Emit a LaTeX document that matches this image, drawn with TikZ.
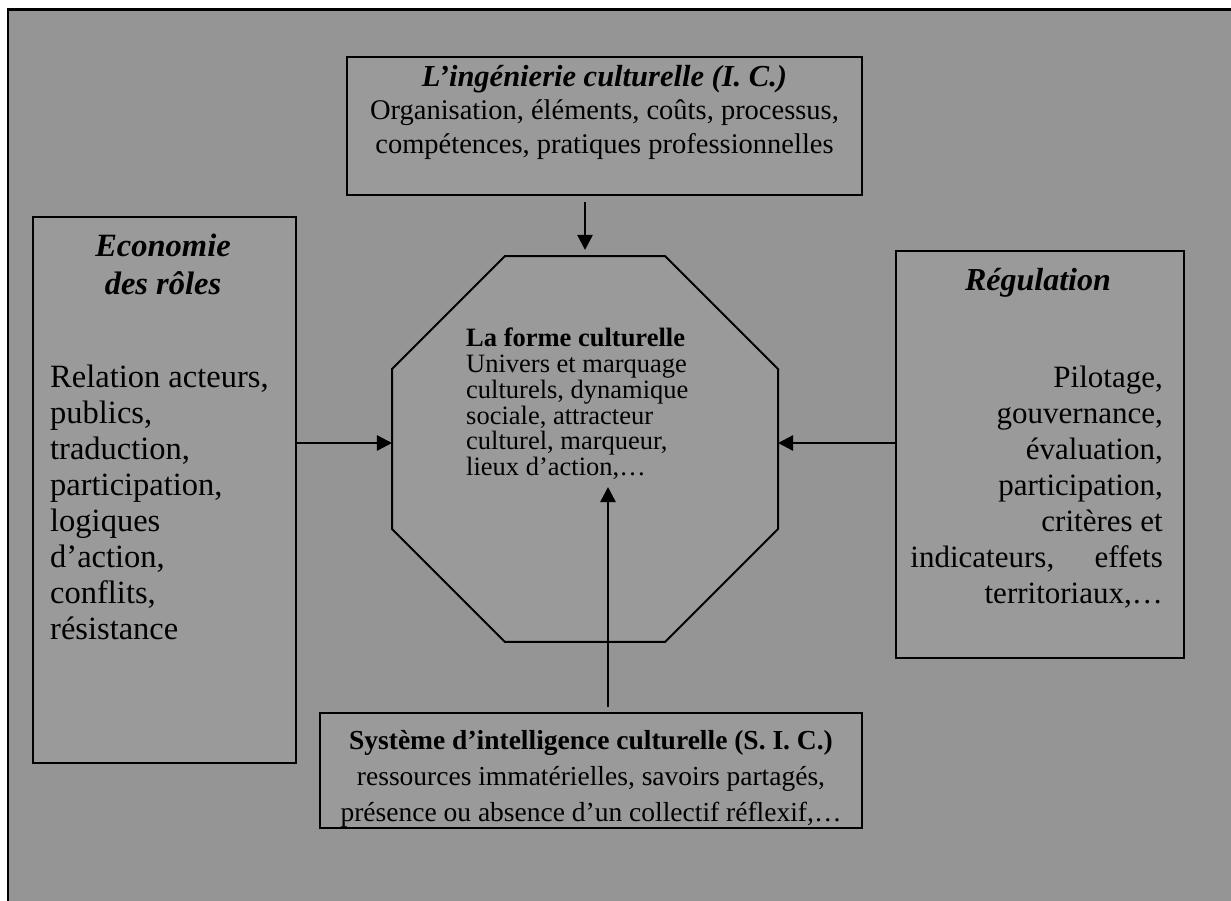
\documentclass[tikz,border=0pt]{standalone}
\usepackage{fontspec}
\setmainfont{Liberation Serif}
\usetikzlibrary{arrows.meta,shapes.geometric}
\definecolor{pagegray}{HTML}{959595}
\definecolor{boxgray}{HTML}{9A9A9A}

\begin{document}
\begin{tikzpicture}[x=1pt,y=-1pt,
	box/.style={draw, line width=2pt, fill=boxgray, inner sep=0pt, outer sep=0pt},
	midtext/.style={inner sep=0pt, align=center, font=\fontsize{28.5}{33.5}\selectfont},
	sidetext/.style={inner sep=0pt, font=\fontsize{31}{36}\selectfont},
	link/.style={-{Triangle[length=15pt,width=15pt]}, line width=2.5pt}]

		% page and frame
		\useasboundingbox (0,0) rectangle (1231,901);
		\fill[white] (0,0) rectangle (1231,901);
		\fill[pagegray] (8,9.5) rectangle (1231,901);
		\draw[line width=2.5pt] (1231,9.5) -- (8,9.5) -- (8,901);

		% boxes
		\node[box, minimum width=515, minimum height=138] (ic) at (604.5,126) {};
		\node[box, minimum width=263, minimum height=546] (eco) at (164.5,490) {};
		\node[box, minimum width=288, minimum height=407] (reg) at (1040,454.5) {};
		\node[box, minimum width=542, minimum height=115] (sic) at (591,770.5) {};
		\node[box, shape=regular polygon, regular polygon sides=8, minimum size=417.8] (forme) at (585,449) {};
		\coordinate (sictip) at (608,487);

		% texts
		\node[midtext] (ictext) at (604.5,112) {{\fontsize{30.5}{33.5}\selectfont\textbf{\textit{L’ingénierie culturelle (I. C.)}}}\\Organisation, éléments, coûts, processus,\\compétences, pratiques professionnelles};
		\node[sidetext, align=center, font=\fontsize{32.5}{38}\selectfont] (ecotitle) at (163,264) {\textbf{\textit{Economie}}\\\textbf{\textit{des rôles}}};
		\node[sidetext, align=left, anchor=west, font=\fontsize{32.5}{36}\selectfont] (ecobody) at (50,502) {Relation acteurs,\\publics,\\traduction,\\participation,\\logiques\\d’action,\\conflits,\\résistance};
		\node[sidetext, font=\fontsize{32}{36}\selectfont] (regtitle) at (1038,283) {\textbf{\textit{Régulation}}};
		\node[sidetext, align=right, anchor=east] (regbody) at (1163,487) {Pilotage,\\gouvernance,\\évaluation,\\participation,\\critères et\\indicateurs,\hspace{1.3em}effets\\territoriaux,…};
		\node[inner sep=0pt, align=left, anchor=west, font=\fontsize{26.5}{25.8}\selectfont] (formetext) at (466,404) {\textbf{La forme culturelle}\\Univers et marquage\\culturels, dynamique\\sociale, attracteur\\culturel, marqueur,\\lieux d’action,…};
		\node[midtext, font=\fontsize{27.5}{36}\selectfont] (sictext) at (591,779) {\textbf{Système d’intelligence culturelle (S. I. C.)}\\ressources immatérielles, savoirs partagés,\\présence ou absence d’un collectif réflexif,…};

		% arrows
		\draw[link, shorten <=7pt, shorten >=6pt] (ic.south -| forme.north) -- (forme.north);
		\draw[link] ([yshift=6pt]eco.east |- forme.west) -- ([yshift=6pt]forme.west);
		\draw[link] ([yshift=6pt]reg.west |- forme.east) -- ([yshift=6pt]forme.east);
		\draw[link, shorten <=6pt] (sic.north -| sictip) -- (sictip);
	\end{tikzpicture}
\end{document}
